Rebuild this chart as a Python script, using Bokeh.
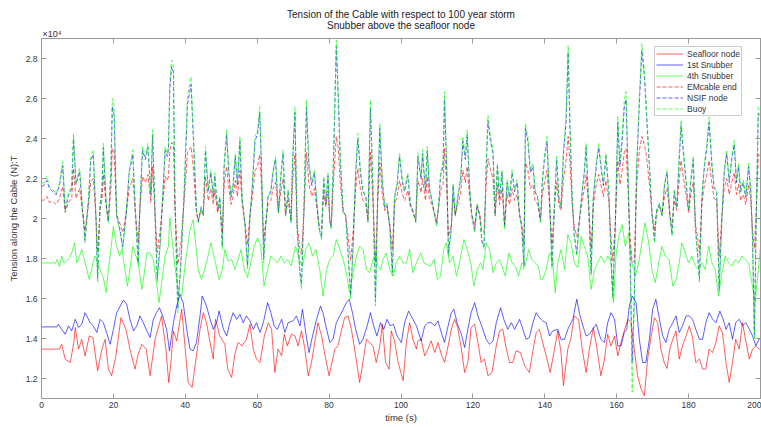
from bokeh.plotting import figure
from bokeh.models import (Range1d, LinearAxis, FixedTicker, Legend, LegendItem, Title,
                          CustomJSTickFormatter, CustomLabelingPolicy)
from bokeh.embed import file_html
from bokeh.resources import INLINE

# ---------------- data (tension in units of 1e4 N) ----------------
t_seafloor = [0, 5.0, 5.6, 6.6, 8.0, 9.0, 9.4, 10.3, 11.2, 12.1, 13.3, 14.3, 15.6, 16.8, 17.7, 18.6, 19.5, 20.7,
              22.1, 23.5, 24.6, 26.0, 26.9, 27.9, 29.1, 30.2, 31.6, 32.5, 33.4, 34.6, 35.4, 36.0, 36.7, 37.6, 39.0,
              39.9, 40.8, 41.9, 43.1, 44.1, 45.0, 45.9, 46.9, 47.8, 48.4, 49.6, 51.0, 51.8, 52.9, 53.8, 54.7, 55.8,
              57.0, 58.0, 58.9, 59.8, 60.8, 62.0, 63.1, 64.0, 64.9, 65.8, 66.8, 67.5, 68.4, 69.5, 70.5, 71.4, 72.3,
              73.2, 74.2, 75.1, 76.0, 76.9, 77.9, 78.8, 80.0, 80.6, 81.6, 82.5, 83.4, 84.3, 85.3, 86.2, 87.1, 88.5,
              89.4, 90.4, 91.3, 92.2, 93.1, 94.1, 94.8, 95.7, 96.7, 97.3, 98.2, 99.2, 100.6, 101.5, 102.4, 103.3,
              104.3, 104.7, 105.6, 106.6, 107.5, 108.4, 109.4, 110.3, 111.2, 112.1, 113.1, 114.0, 114.9, 115.8,
              116.8, 117.7, 118.6, 119.5, 120.5, 121.4, 122.3, 123.2, 124.2, 125.3, 126.5, 127.4, 128.3, 129.3,
              130.2, 131.1, 132.0, 133.2, 134.4, 135.7, 136.7, 137.6, 138.5, 139.4, 140.4, 141.5, 142.7, 143.6,
              144.5, 145.2, 146.4, 147.3, 148.2, 149.4, 150.4, 151.5, 152.4, 153.5, 154.4, 155.6, 156.6, 157.5,
              158.4, 159.4, 160.3, 161.2, 162.1, 163.1, 164.0, 164.9, 165.8, 166.8, 167.7, 168.6, 169.6, 170.5,
              171.4, 172.3, 173.2, 174.0, 174.8, 175.6, 176.5, 177.4, 178.3, 179.3, 180.2, 181.1, 182.0, 183.0,
              183.9, 184.8, 185.7, 186.7, 187.6, 188.5, 189.4, 190.4, 191.3, 192.2, 193.1, 194.1, 195.0, 195.9,
              196.9, 197.8, 198.7, 199.6, 200]
v_seafloor = [1.347, 1.347, 1.371, 1.297, 1.280, 1.380, 1.455, 1.347, 1.396, 1.313, 1.413, 1.405, 1.238, 1.347,
              1.396, 1.247, 1.214, 1.313, 1.504, 1.446, 1.347, 1.247, 1.322, 1.371, 1.347, 1.214, 1.396, 1.455,
              1.513, 1.347, 1.180, 1.280, 1.438, 1.388, 1.546, 1.363, 1.180, 1.156, 1.313, 1.446, 1.529, 1.479,
              1.380, 1.297, 1.496, 1.413, 1.371, 1.247, 1.205, 1.322, 1.380, 1.363, 1.396, 1.471, 1.347, 1.297,
              1.280, 1.413, 1.479, 1.446, 1.230, 1.347, 1.313, 1.421, 1.363, 1.421, 1.413, 1.363, 1.438, 1.355,
              1.214, 1.280, 1.380, 1.479, 1.413, 1.322, 1.214, 1.264, 1.347, 1.363, 1.438, 1.504, 1.513, 1.446,
              1.347, 1.180, 1.280, 1.396, 1.380, 1.363, 1.280, 1.363, 1.471, 1.280, 1.247, 1.438, 1.388, 1.280,
              1.189, 1.380, 1.479, 1.396, 1.347, 1.388, 1.396, 1.313, 1.347, 1.388, 1.330, 1.380, 1.322, 1.280,
              1.363, 1.446, 1.496, 1.455, 1.347, 1.230, 1.280, 1.455, 1.471, 1.380, 1.280, 1.297, 1.214, 1.230,
              1.363, 1.438, 1.446, 1.347, 1.280, 1.280, 1.338, 1.330, 1.264, 1.230, 1.338, 1.430, 1.446, 1.380,
              1.313, 1.230, 1.347, 1.438, 1.330, 1.164, 1.347, 1.405, 1.513, 1.496, 1.347, 1.230, 1.347, 1.455,
              1.363, 1.214, 1.297, 1.421, 1.363, 1.413, 1.313, 1.380, 1.438, 1.496, 1.479, 1.347, 1.214, 1.147,
              1.114, 1.297, 1.413, 1.504, 1.479, 1.347, 1.280, 1.250, 1.350, 1.396, 1.438, 1.297, 1.363, 1.413,
              1.463, 1.405, 1.280, 1.297, 1.247, 1.247, 1.347, 1.330, 1.380, 1.463, 1.430, 1.280, 1.180, 1.280,
              1.396, 1.347, 1.479, 1.388, 1.297, 1.347, 1.363, 1.347, 1.350]

t_snub1 = [0, 4.3, 4.7, 5.6, 6.6, 7.5, 8.4, 9.4, 10.3, 11.2, 12.1, 12.6, 13.5, 14.4, 15.4, 16.3, 17.2, 18.1, 19.1,
           20.0, 20.9, 21.9, 22.8, 23.7, 24.6, 25.6, 26.5, 27.4, 28.3, 29.3, 30.2, 31.1, 32.0, 32.8, 33.7, 34.8,
           35.6, 36.7, 37.6, 38.5, 39.4, 40.4, 41.3, 42.2, 43.1, 44.1, 44.7, 45.9, 46.9, 47.8, 48.7, 49.4, 50.6,
           51.5, 52.4, 53.3, 54.3, 55.2, 56.1, 57.0, 58.0, 58.9, 59.8, 60.8, 61.7, 62.9, 63.8, 64.7, 65.6, 66.8,
           67.7, 68.6, 70.0, 70.9, 71.9, 72.6, 73.5, 74.4, 75.4, 76.5, 77.6, 78.3, 79.3, 80.2, 81.1, 82.0, 83.0,
           83.9, 84.8, 85.6, 86.5, 87.4, 88.5, 89.4, 90.6, 91.5, 92.4, 93.3, 94.3, 95.2, 96.1, 97.0, 97.9, 98.9,
           100.1, 101.0, 102.1, 103.3, 104.3, 105.6, 106.6, 107.5, 108.4, 109.4, 110.3, 111.2, 112.1, 113.1, 114.0,
           114.7, 115.6, 116.8, 117.7, 118.6, 119.5, 120.5, 121.4, 122.3, 123.7, 124.6, 125.6, 126.5, 127.7, 128.6,
           129.7, 130.7, 131.6, 133.0, 133.9, 134.8, 135.7, 136.7, 137.6, 138.5, 139.4, 140.4, 141.3, 142.2, 143.6,
           144.5, 145.5, 146.4, 147.8, 148.9, 149.8, 150.6, 151.5, 152.4, 153.3, 154.3, 155.6, 156.6, 157.5, 158.4,
           159.4, 160.3, 161.2, 162.1, 162.8, 163.5, 164.3, 165.4, 166.3, 167.2, 168.1, 169.1, 170.0, 170.9, 171.9,
           172.8, 173.7, 174.6, 175.6, 176.5, 177.4, 178.3, 179.3, 180.2, 181.1, 182.0, 183.0, 183.9, 184.8, 185.7,
           186.7, 187.6, 188.7, 189.6, 190.4, 191.3, 192.2, 193.1, 194.1, 195.0, 195.9, 196.9, 197.8, 198.7, 199.6,
           200]
v_snub1 = [1.458, 1.458, 1.471, 1.446, 1.421, 1.463, 1.438, 1.496, 1.455, 1.471, 1.529, 1.513, 1.479, 1.463, 1.430,
           1.496, 1.479, 1.430, 1.371, 1.446, 1.529, 1.562, 1.592, 1.571, 1.496, 1.438, 1.463, 1.513, 1.479, 1.438,
           1.405, 1.496, 1.529, 1.554, 1.513, 1.446, 1.338, 1.479, 1.562, 1.621, 1.579, 1.446, 1.347, 1.338, 1.380,
           1.513, 1.612, 1.562, 1.496, 1.446, 1.479, 1.537, 1.446, 1.413, 1.479, 1.529, 1.496, 1.521, 1.479, 1.513,
           1.488, 1.446, 1.479, 1.430, 1.479, 1.579, 1.529, 1.463, 1.446, 1.496, 1.430, 1.479, 1.488, 1.513, 1.463,
           1.546, 1.430, 1.330, 1.413, 1.496, 1.562, 1.529, 1.446, 1.380, 1.396, 1.479, 1.513, 1.546, 1.579, 1.596,
           1.529, 1.446, 1.371, 1.396, 1.463, 1.529, 1.463, 1.413, 1.479, 1.446, 1.496, 1.463, 1.471, 1.413, 1.380,
           1.479, 1.537, 1.496, 1.463, 1.388, 1.463, 1.479, 1.479, 1.463, 1.488, 1.430, 1.380, 1.463, 1.529, 1.546,
           1.479, 1.421, 1.355, 1.446, 1.529, 1.579, 1.513, 1.471, 1.396, 1.371, 1.388, 1.479, 1.554, 1.496, 1.446,
           1.479, 1.446, 1.496, 1.446, 1.396, 1.405, 1.479, 1.529, 1.504, 1.488, 1.479, 1.413, 1.438, 1.446, 1.396,
           1.396, 1.446, 1.496, 1.596, 1.513, 1.463, 1.413, 1.421, 1.446, 1.471, 1.396, 1.380, 1.479, 1.529, 1.496,
           1.363, 1.363, 1.430, 1.446, 1.562, 1.612, 1.579, 1.396, 1.280, 1.280, 1.396, 1.546, 1.596, 1.496, 1.413,
           1.380, 1.446, 1.479, 1.513, 1.430, 1.463, 1.513, 1.513, 1.496, 1.446, 1.396, 1.396, 1.479, 1.529, 1.496,
           1.479, 1.537, 1.496, 1.446, 1.479, 1.396, 1.479, 1.496, 1.463, 1.479, 1.446, 1.413, 1.363, 1.396, 1.400]

t_snub4 = [0, 3.3, 3.8, 4.3, 5.0, 5.6, 6.3, 7.0, 7.8, 8.4, 9.2, 9.8, 10.6, 11.2, 11.9, 12.6, 13.3, 14.3, 14.9, 15.6,
           16.3, 17.2, 18.0, 18.6, 19.3, 20.0, 20.7, 21.7, 22.4, 23.2, 23.9, 24.6, 25.4, 26.0, 26.9, 27.9, 28.5, 29.3,
           30.2, 31.1, 32.0, 32.7, 33.4, 34.4, 35.3, 35.7, 37.0, 38.1, 39.0, 40.0, 41.3, 42.2, 43.6, 44.5, 45.9, 47.1,
           48.2, 49.4, 50.3, 51.0, 51.9, 52.9, 53.8, 54.7, 55.5, 56.4, 57.3, 58.2, 59.2, 60.1, 61.0, 61.9, 62.9, 63.8,
           64.7, 65.6, 66.6, 67.5, 68.4, 69.5, 70.0, 70.7, 71.7, 72.6, 73.5, 74.4, 75.4, 76.3, 77.4, 78.3, 79.3, 80.2,
           81.1, 82.0, 83.0, 83.9, 84.8, 85.7, 86.7, 87.6, 88.5, 89.4, 90.4, 91.3, 92.2, 92.9, 93.6, 94.3, 95.0, 95.9,
           96.9, 97.8, 98.7, 99.6, 100.6, 101.5, 102.4, 103.3, 104.3, 105.5, 106.4, 107.3, 108.2, 109.2, 110.1, 111.0,
           111.9, 112.6, 113.5, 114.5, 115.4, 116.3, 117.5, 118.4, 119.4, 120.3, 121.2, 122.1, 122.8, 123.7, 124.6,
           125.6, 126.5, 127.4, 128.1, 129.0, 130.0, 130.9, 131.8, 132.7, 133.6, 134.5, 135.5, 136.4, 137.3, 138.2,
           138.9, 139.4, 140.4, 141.3, 142.2, 142.9, 143.6, 144.5, 145.5, 146.4, 147.3, 148.2, 149.2, 150.1, 151.0,
           151.9, 152.9, 153.8, 154.7, 155.6, 156.6, 157.5, 158.4, 159.1, 159.8, 160.6, 161.5, 162.4, 163.3, 164.2,
           165.2, 166.1, 167.0, 167.9, 168.9, 169.8, 170.7, 171.7, 172.6, 173.5, 174.6, 175.6, 176.5, 177.4, 178.1,
           179.1, 180.0, 180.9, 181.9, 182.8, 183.7, 184.6, 185.6, 186.5, 187.4, 188.3, 189.3, 190.2, 191.1, 192.0,
           193.0, 193.9, 194.8, 195.7, 196.7, 197.6, 198.5, 199.4, 200]
v_snub4 = [1.778, 1.778, 1.775, 1.795, 1.758, 1.812, 1.778, 1.787, 1.803, 1.828, 1.878, 1.778, 1.812, 1.845, 1.795,
           1.745, 1.695, 1.778, 1.812, 1.778, 1.745, 1.704, 1.629, 1.745, 1.845, 1.961, 1.878, 1.812, 1.845, 1.745,
           1.662, 1.745, 1.861, 1.828, 1.778, 1.646, 1.712, 1.828, 1.828, 1.795, 1.679, 1.579, 1.679, 1.812, 1.861,
           2.003, 1.778, 1.629, 1.612, 1.778, 1.945, 1.994, 1.745, 1.695, 1.778, 1.878, 1.795, 1.695, 1.745, 1.845,
           1.787, 1.795, 1.745, 1.795, 1.845, 1.745, 1.704, 1.778, 1.861, 1.903, 1.861, 1.662, 1.745, 1.812, 1.795,
           1.778, 1.812, 1.778, 1.795, 1.762, 1.812, 1.861, 1.795, 1.762, 1.845, 1.878, 1.812, 1.845, 1.745, 1.612,
           1.745, 1.795, 1.812, 1.895, 1.845, 1.795, 1.729, 1.629, 1.729, 1.812, 1.861, 1.845, 1.745, 1.729, 1.795,
           1.828, 1.762, 1.745, 1.795, 1.828, 1.745, 1.712, 1.778, 1.812, 1.778, 1.778, 1.845, 1.729, 1.778, 1.828,
           1.778, 1.770, 1.762, 1.795, 1.695, 1.712, 1.845, 1.878, 1.778, 1.812, 1.712, 1.778, 1.895, 1.845, 1.778,
           1.662, 1.745, 1.778, 1.745, 1.878, 1.845, 1.729, 1.778, 1.795, 1.762, 1.712, 1.828, 1.778, 1.762, 1.712,
           1.778, 1.762, 1.845, 1.795, 1.778, 1.762, 1.695, 1.695, 1.745, 1.828, 1.795, 1.629, 1.778, 1.845, 1.745,
           1.920, 1.878, 1.778, 1.754, 1.911, 1.861, 1.812, 1.646, 1.745, 1.778, 1.812, 1.778, 1.812, 1.778, 1.579,
           1.812, 1.911, 1.969, 1.861, 1.928, 1.778, 1.712, 1.778, 1.878, 1.978, 1.878, 1.745, 1.679, 1.778, 1.861,
           1.812, 1.795, 1.662, 1.695, 1.778, 1.878, 1.828, 1.778, 1.812, 1.762, 1.745, 1.778, 1.745, 1.861, 1.778,
           1.745, 1.612, 1.729, 1.812, 1.778, 1.762, 1.795, 1.778, 1.812, 1.795, 1.778, 1.679, 1.579, 1.745, 1.860]

t_top = [0, 0.6, 1.5, 2.2, 3.1, 4.1, 5.0, 5.9, 6.6, 7.5, 8.4, 8.9, 9.6, 10.6, 11.3, 12.1, 13.1, 13.7, 14.4, 15.2, 15.6,
         16.3, 16.8, 17.2, 18.0, 18.6, 19.3, 19.7, 20.2, 20.9, 21.9, 22.6, 23.5, 24.4, 25.4, 26.1, 26.9, 27.4, 28.1,
         28.9, 29.6, 30.4, 30.9, 31.6, 32.2, 33.0, 33.7, 34.4, 35.0, 35.3, 35.7, 36.2, 36.7, 37.1, 37.9, 38.8, 39.7,
         40.6, 41.6, 42.2, 43.1, 43.6, 44.4, 45.0, 45.6, 46.4, 47.1, 47.8, 48.2, 49.0, 49.6, 50.3, 50.8, 51.5, 52.1,
         52.7, 53.3, 53.9, 54.5, 55.2, 55.8, 56.6, 57.3, 58.0, 58.6, 59.4, 60.1, 60.7, 61.2, 61.8, 62.3, 63.0, 63.8,
         64.4, 65.1, 65.9, 66.6, 67.2, 67.9, 68.6, 69.4, 69.8, 70.5, 71.1, 71.9, 72.3, 73.0, 73.7, 74.4, 75.2, 75.9,
         76.7, 77.2, 77.9, 78.5, 79.1, 79.7, 80.2, 80.6, 81.3, 82.0, 82.6, 83.1, 83.9, 84.6, 85.3, 86.0, 86.7, 87.4,
         88.0, 88.7, 89.4, 90.2, 90.8, 91.5, 92.2, 92.9, 93.5, 94.1, 94.8, 95.5, 96.1, 96.9, 97.6, 98.2, 98.9, 99.6,
         100.4, 101.0, 101.9, 102.6, 103.3, 104.1, 104.7, 105.6, 106.0, 106.8, 107.3, 107.9, 108.6, 109.4, 109.9,
         110.5, 111.0, 111.7, 112.1, 112.7, 113.2, 114.0, 114.5, 115.1, 115.8, 116.6, 117.2, 117.9, 118.4, 119.1,
         119.7, 120.5, 121.2, 121.9, 122.5, 123.1, 123.7, 124.2, 124.9, 125.6, 126.2, 126.8, 127.4, 128.1, 128.8,
         129.5, 130.2, 130.9, 131.6, 132.3, 133.0, 133.6, 134.2, 134.6, 135.3, 136.0, 136.7, 137.3, 138.0, 138.8,
         139.3, 139.9, 140.6, 141.3, 142.0, 142.7, 143.3, 143.9, 144.5, 145.2, 145.9, 146.5, 147.0, 147.6, 148.2,
         148.9, 149.6, 150.4, 151.0, 151.5, 152.2, 152.9, 153.5, 154.3, 155.0, 155.6, 156.3, 157.0, 157.8, 158.4,
         158.9, 159.6, 160.3, 160.9, 161.5, 162.1, 162.6, 163.1, 163.7, 164.3, 164.9, 165.5, 166.3, 167.0, 167.7,
         168.3, 169.1, 169.8, 170.5, 171.1, 171.9, 172.6, 173.3, 174.0, 174.8, 175.4, 176.0, 176.7, 177.2, 177.9,
         178.5, 179.3, 180.0, 180.6, 181.3, 181.9, 182.5, 183.0, 183.7, 184.4, 185.0, 185.7, 186.5, 187.1, 187.8,
         188.5, 189.3, 189.9, 190.6, 191.3, 192.0, 192.7, 193.3, 193.9, 194.5, 195.2, 195.9, 196.7, 197.3, 197.8,
         198.3, 198.9, 199.4, 200]
v_buoy = [2.177, 2.177, 2.210, 2.160, 2.144, 2.127, 2.177, 2.285, 2.036, 2.127, 2.160, 2.426, 2.177, 2.252, 2.077,
          1.878, 2.111, 2.310, 2.343, 1.978, 1.679, 2.077, 2.144, 2.376, 2.077, 1.978, 2.244, 2.601, 2.559, 2.011,
          1.928, 1.845, 2.011, 2.244, 2.343, 2.044, 1.762, 2.077, 2.360, 2.310, 2.376, 2.127, 2.443, 2.011, 1.679,
          1.861, 2.111, 2.360, 2.327, 2.360, 2.692, 2.792, 2.758, 2.111, 1.529, 1.778, 2.144, 2.609, 2.709, 2.443,
          2.044, 1.978, 2.061, 2.011, 2.360, 2.144, 2.244, 2.111, 2.227, 2.044, 2.111, 1.845, 2.277, 2.443, 2.244,
          2.111, 2.177, 2.327, 2.177, 2.410, 2.111, 1.961, 1.745, 2.011, 2.160, 2.410, 2.443, 2.559, 2.277, 1.778,
          1.945, 2.111, 2.144, 2.244, 2.310, 2.028, 2.227, 2.343, 2.011, 2.144, 1.978, 2.277, 2.559, 1.945, 1.712,
          1.646, 2.044, 2.592, 2.277, 2.177, 2.244, 2.061, 1.945, 1.895, 2.210, 2.077, 2.227, 1.978, 1.945, 2.360,
          2.891, 2.609, 2.310, 2.044, 2.011, 1.812, 1.596, 1.861, 2.244, 2.426, 2.244, 2.144, 2.111, 1.978, 2.592,
          2.144, 1.562, 2.111, 2.476, 2.194, 2.061, 2.077, 1.945, 1.712, 2.111, 2.177, 2.327, 2.194, 2.144, 2.227,
          2.077, 2.044, 1.978, 2.327, 2.210, 2.343, 2.144, 2.360, 2.160, 2.094, 2.011, 1.961, 2.077, 2.227, 2.277,
          2.634, 2.277, 1.812, 1.945, 2.177, 2.011, 2.111, 2.210, 2.410, 2.310, 2.443, 2.160, 2.011, 1.928, 2.077,
          2.011, 1.878, 1.845, 2.277, 2.518, 2.410, 2.343, 2.011, 2.277, 2.111, 2.244, 1.945, 2.194, 2.111, 2.244,
          2.144, 2.194, 2.011, 1.945, 1.745, 2.476, 2.410, 2.244, 2.277, 2.144, 2.111, 1.978, 2.194, 2.310, 2.410,
          2.111, 1.745, 2.077, 2.310, 2.111, 2.061, 2.343, 2.509, 2.866, 2.476, 2.111, 1.911, 1.812, 1.978, 2.144,
          2.244, 2.376, 2.077, 1.712, 2.111, 2.277, 2.376, 2.277, 2.177, 2.327, 2.144, 1.812, 1.596, 1.945, 2.509,
          2.277, 2.410, 2.592, 2.634, 2.277, 1.812, 1.131, 1.579, 2.244, 2.609, 2.875, 2.742, 2.543, 2.277, 2.028,
          1.878, 2.044, 2.077, 2.011, 2.177, 2.244, 2.011, 1.911, 2.144, 2.061, 2.244, 2.493, 2.360, 2.194, 2.044,
          2.194, 2.310, 1.945, 1.812, 1.679, 2.111, 2.277, 2.360, 2.509, 2.277, 2.160, 2.144, 1.629, 2.011, 2.244,
          2.343, 2.194, 2.310, 2.393, 2.194, 2.277, 2.144, 2.194, 2.111, 2.277, 2.144, 1.878, 1.396, 2.111, 2.559,
          2.540]
v_nsif = [2.160, 2.165, 2.190, 2.150, 2.135, 2.120, 2.165, 2.265, 2.040, 2.115, 2.150, 2.400, 2.170, 2.235, 2.070,
          1.890, 2.100, 2.290, 2.320, 1.985, 1.700, 2.065, 2.135, 2.355, 2.070, 1.985, 2.230, 2.560, 2.520, 2.015,
          1.935, 1.860, 2.010, 2.230, 2.320, 2.040, 1.780, 2.070, 2.340, 2.295, 2.355, 2.120, 2.420, 2.015, 1.700,
          1.875, 2.100, 2.340, 2.310, 2.345, 2.650, 2.760, 2.730, 2.110, 1.550, 1.790, 2.135, 2.570, 2.670, 2.420,
          2.040, 1.985, 2.055, 2.015, 2.340, 2.135, 2.230, 2.105, 2.215, 2.040, 2.105, 1.860, 2.260, 2.420, 2.230,
          2.105, 2.165, 2.310, 2.165, 2.385, 2.105, 1.970, 1.765, 2.015, 2.150, 2.390, 2.420, 2.530, 2.260, 1.795,
          1.950, 2.105, 2.135, 2.230, 2.295, 2.030, 2.215, 2.325, 2.015, 2.135, 1.985, 2.260, 2.530, 1.955, 1.730,
          1.670, 2.040, 2.555, 2.260, 2.165, 2.230, 2.055, 1.955, 1.905, 2.195, 2.070, 2.215, 1.985, 1.955, 2.340,
          2.860, 2.575, 2.295, 2.040, 2.015, 1.825, 1.615, 1.875, 2.230, 2.400, 2.230, 2.135, 2.105, 1.985, 2.555,
          2.135, 1.585, 2.105, 2.450, 2.180, 2.055, 2.070, 1.955, 1.730, 2.105, 2.165, 2.310, 2.180, 2.135, 2.215,
          2.070, 2.040, 1.985, 2.310, 2.195, 2.325, 2.135, 2.340, 2.150, 2.090, 2.015, 1.970, 2.070, 2.215, 2.260,
          2.595, 2.260, 1.825, 1.955, 2.165, 2.015, 2.105, 2.195, 2.385, 2.295, 2.420, 2.150, 2.015, 1.940, 2.070,
          2.015, 1.890, 1.860, 2.260, 2.490, 2.385, 2.325, 2.015, 2.260, 2.105, 2.230, 1.955, 2.180, 2.105, 2.230,
          2.135, 2.180, 2.015, 1.955, 1.765, 2.450, 2.385, 2.230, 2.260, 2.135, 2.105, 1.985, 2.180, 2.295, 2.385,
          2.105, 1.765, 2.070, 2.295, 2.105, 2.055, 2.325, 2.480, 2.830, 2.450, 2.105, 1.920, 1.825, 1.985, 2.135,
          2.230, 2.355, 2.070, 1.730, 2.105, 2.260, 2.355, 2.260, 2.165, 2.310, 2.135, 1.825, 1.615, 1.955, 2.480,
          2.260, 2.385, 2.555, 2.595, 2.260, 1.825, 1.280, 1.600, 2.230, 2.575, 2.840, 2.710, 2.515, 2.260, 2.030,
          1.890, 2.040, 2.070, 2.015, 2.165, 2.230, 2.015, 1.920, 2.135, 2.055, 2.230, 2.465, 2.340, 2.180, 2.040,
          2.180, 2.295, 1.955, 1.825, 1.700, 2.105, 2.260, 2.340, 2.480, 2.260, 2.150, 2.135, 1.650, 2.015, 2.230,
          2.325, 2.180, 2.295, 2.370, 2.180, 2.260, 2.135, 2.180, 2.105, 2.260, 2.135, 1.890, 1.420, 2.105, 2.525,
          2.510]
v_emcable = [2.094, 2.090, 2.110, 2.080, 2.085, 2.070, 2.100, 2.160, 2.030, 2.080, 2.100, 2.250, 2.100, 2.150, 2.050,
             1.940, 2.070, 2.180, 2.200, 1.990, 1.830, 2.050, 2.090, 2.220, 2.060, 1.990, 2.150, 2.350, 2.330, 2.020,
             1.970, 1.930, 2.020, 2.150, 2.200, 2.030, 1.880, 2.060, 2.210, 2.180, 2.220, 2.080, 2.260, 2.020, 1.830,
             1.940, 2.070, 2.210, 2.190, 2.210, 2.340, 2.380, 2.370, 2.070, 1.770, 1.880, 2.090, 2.330, 2.360, 2.260,
             2.030, 1.990, 2.040, 2.020, 2.210, 2.090, 2.150, 2.070, 2.140, 2.030, 2.070, 1.930, 2.170, 2.260, 2.150,
             2.070, 2.110, 2.190, 2.110, 2.240, 2.070, 1.980, 1.870, 2.020, 2.100, 2.240, 2.260, 2.320, 2.170, 1.890,
             1.970, 2.070, 2.090, 2.150, 2.180, 2.030, 2.140, 2.200, 2.020, 2.090, 1.990, 2.170, 2.320, 1.970, 1.850,
             1.820, 2.030, 2.330, 2.170, 2.110, 2.150, 2.040, 1.970, 1.950, 2.130, 2.060, 2.140, 1.990, 1.970, 2.210,
             2.410, 2.340, 2.180, 2.030, 2.020, 1.910, 1.790, 1.940, 2.150, 2.250, 2.150, 2.090, 2.070, 1.990, 2.330,
             2.090, 1.780, 2.070, 2.280, 2.120, 2.040, 2.060, 1.970, 1.850, 2.070, 2.110, 2.190, 2.120, 2.090, 2.140,
             2.060, 2.030, 1.990, 2.190, 2.130, 2.200, 2.090, 2.210, 2.100, 2.070, 2.020, 1.980, 2.060, 2.140, 2.170,
             2.350, 2.170, 1.910, 1.970, 2.110, 2.020, 2.070, 2.130, 2.240, 2.180, 2.260, 2.100, 2.020, 1.970, 2.060,
             2.020, 1.940, 1.930, 2.170, 2.300, 2.240, 2.200, 2.020, 2.170, 2.070, 2.150, 1.970, 2.120, 2.070, 2.150,
             2.090, 2.120, 2.020, 1.970, 1.870, 2.280, 2.240, 2.150, 2.170, 2.090, 2.070, 1.990, 2.120, 2.180, 2.240,
             2.070, 1.870, 2.060, 2.180, 2.070, 2.040, 2.200, 2.290, 2.410, 2.280, 2.070, 1.960, 1.910, 1.990, 2.090,
             2.150, 2.220, 2.060, 1.850, 2.070, 2.170, 2.220, 2.170, 2.110, 2.190, 2.090, 1.910, 1.790, 1.970, 2.290,
             2.170, 2.240, 2.330, 2.350, 2.170, 1.910, 1.780, 1.790, 2.150, 2.340, 2.410, 2.370, 2.310, 2.170, 2.030,
             1.940, 2.030, 2.060, 2.020, 2.110, 2.150, 2.020, 1.960, 2.090, 2.040, 2.150, 2.290, 2.210, 2.120, 2.030,
             2.120, 2.180, 1.970, 1.910, 1.830, 2.070, 2.170, 2.210, 2.290, 2.170, 2.100, 2.090, 1.810, 2.020, 2.150,
             2.200, 2.120, 2.180, 2.230, 2.120, 2.170, 2.090, 2.120, 2.070, 2.170, 2.090, 1.940, 1.850, 2.070, 2.320,
             2.310]

x_ticks = [0, 20, 40, 60, 80, 100, 120, 140, 160, 180, 200]
y_ticks = [1.2, 1.4, 1.6, 1.8, 2.0, 2.2, 2.4, 2.6, 2.8]

# ---------------- figure ----------------
FONT = "Liberation Sans"
AX = "#9a9a9a"
TXT = "#333333"

p = figure(width=761, height=427, output_backend="svg", toolbar_location=None, title=None,
           x_range=Range1d(0, 200), y_range=Range1d(1.1, 2.9),
           min_border_left=41, min_border_right=1, min_border_top=38, min_border_bottom=29,
           background_fill_color="white", border_fill_color="white")
p.grid.visible = False
p.outline_line_color = AX
p.outline_line_width = 1

no_labels = CustomLabelingPolicy(
    code="const ks = Array.from(indices); for (const k of ks) { indices.unset(k) } return indices")

def style_axis(ax, labels=True):
    ax.axis_line_color = AX
    ax.major_tick_line_color = AX
    ax.major_tick_in = 5
    ax.major_tick_out = 0
    ax.minor_tick_in = 0
    ax.minor_tick_out = 0
    ax.minor_tick_line_color = None
    ax.major_label_text_font = FONT
    ax.major_label_text_color = TXT
    ax.axis_label_text_font = FONT
    ax.axis_label_text_color = TXT
    ax.axis_label_text_font_style = "normal"
    ax.axis_label_text_font_size = "9.5px"
    if labels:
        ax.major_label_text_font_size = "8.5px"
        ax.major_label_standoff = 4
    else:
        ax.major_label_text_font_size = "0px"
        ax.major_label_policy = no_labels
        ax.major_label_standoff = 0

xa = p.xaxis[0]
ya = p.yaxis[0]
xa.ticker = FixedTicker(ticks=x_ticks)
ya.ticker = FixedTicker(ticks=y_ticks)
ya.formatter = CustomJSTickFormatter(code="return (Math.round(tick*10)/10).toString();")
xa.axis_label = "time (s)"
ya.axis_label = "Tension along the Cable (N):T"
style_axis(xa)
style_axis(ya)
xa.major_label_standoff = 3
xa.axis_label_standoff = 1
ya.axis_label_standoff = 4

top_ax = LinearAxis(ticker=FixedTicker(ticks=x_ticks))
right_ax = LinearAxis(ticker=FixedTicker(ticks=y_ticks))
style_axis(top_ax, labels=False)
style_axis(right_ax, labels=False)
p.add_layout(top_ax, "above")
p.add_layout(right_ax, "right")

# title rows (first added sits closest to the plot frame)
exp_title = Title(text="×10⁴", align="left", text_font=FONT, text_font_size="9px",
                  text_font_style="normal", text_color=TXT, standoff=0, offset=1)
sub_title = Title(text="Snubber above the seafloor node", align="center", text_font=FONT,
                  text_font_size="10px", text_font_style="normal", text_color="#222222", standoff=-8)
main_title = Title(text="Tension of the Cable with respect to 100 year storm", align="center", text_font=FONT,
                   text_font_size="10px", text_font_style="normal", text_color="#222222", standoff=3)
p.add_layout(exp_title, "above")
p.add_layout(sub_title, "above")
p.add_layout(main_title, "above")

LW = 0.8
DASH = "4 2"
AL = 0.8
r1 = p.line(t_seafloor, v_seafloor, line_color="#ff0000", line_width=LW, line_alpha=AL)
r2 = p.line(t_snub1, v_snub1, line_color="#0000ff", line_width=LW, line_alpha=AL)
r3 = p.line(t_snub4, v_snub4, line_color="#00ff00", line_width=LW, line_alpha=AL)
r4 = p.line(t_top, v_emcable, line_color="#ff0000", line_width=LW, line_alpha=AL, line_dash=DASH)
r5 = p.line(t_top, v_nsif, line_color="#0000ff", line_width=LW, line_alpha=AL, line_dash=DASH)
r6 = p.line(t_top, v_buoy, line_color="#00ff00", line_width=LW, line_alpha=AL, line_dash=DASH)

legend = Legend(items=[
    LegendItem(label="Seafloor node", renderers=[r1]),
    LegendItem(label="1st Snubber", renderers=[r2]),
    LegendItem(label="4th Snubber", renderers=[r3]),
    LegendItem(label="EMcable end", renderers=[r4]),
    LegendItem(label="NSIF node", renderers=[r5]),
    LegendItem(label="Buoy", renderers=[r6]),
], location=(613, 282))
legend.margin = 0
legend.padding = 1
legend.spacing = 0
legend.glyph_width = 27
legend.glyph_height = 11
legend.label_height = 11
legend.label_standoff = 4
legend.label_text_font = FONT
legend.label_text_font_size = "8.5px"
legend.label_text_color = TXT
legend.border_line_color = AX
legend.border_line_width = 1
legend.background_fill_color = "white"
legend.background_fill_alpha = 1
p.add_layout(legend)

open("out.html", "w").write(file_html(p, INLINE))
